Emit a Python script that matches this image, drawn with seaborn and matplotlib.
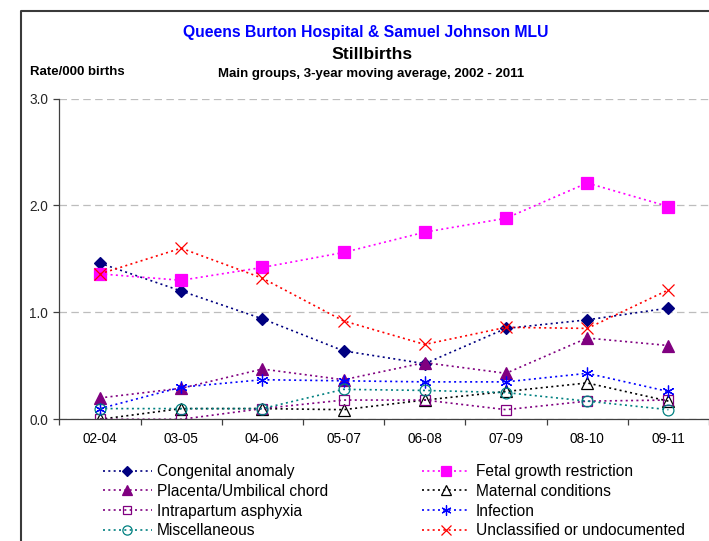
import numpy as np
import pandas as pd
import matplotlib
matplotlib.use("Agg")
import matplotlib.pyplot as plt
from matplotlib.lines import Line2D
import seaborn as sns

# ---- data (rate per 000 births, 3-year moving average) ----
periods = ["02-04", "03-05", "04-06", "05-07", "06-08", "07-09", "08-10", "09-11"]
congenital = [1.46, 1.20, 0.94, 0.64, 0.52, 0.85, 0.93, 1.04]
fetal = [1.36, 1.30, 1.42, 1.56, 1.75, 1.88, 2.21, 1.99]
placenta = [0.20, 0.29, 0.47, 0.37, 0.53, 0.43, 0.76, 0.69]
maternal = [0.00, 0.10, 0.10, 0.09, 0.18, 0.26, 0.34, 0.17]
intrapartum = [0.00, 0.00, 0.10, 0.18, 0.18, 0.09, 0.17, 0.18]
infection = [0.10, 0.30, 0.37, 0.36, 0.35, 0.35, 0.43, 0.26]
miscellaneous = [0.10, 0.10, 0.10, 0.28, 0.27, 0.25, 0.17, 0.09]
unclassified = [1.36, 1.60, 1.32, 0.92, 0.70, 0.86, 0.85, 1.21]

series_names = ["Congenital anomaly", "Fetal growth restriction",
                "Placenta/Umbilical chord", "Maternal conditions",
                "Intrapartum asphyxia", "Infection", "Miscellaneous",
                "Unclassified or undocumented"]
series_values = [congenital, fetal, placenta, maternal,
                 intrapartum, infection, miscellaneous, unclassified]

# ---- styles ----
styles = {
    "Congenital anomaly": dict(color="#000080", marker="D", ms=5.8, mfc="#000080"),
    "Fetal growth restriction": dict(color="#FF00FF", marker="s", ms=8.2, mfc="#FF00FF"),
    "Placenta/Umbilical chord": dict(color="#800080", marker="^", ms=8.0, mfc="#800080"),
    "Maternal conditions": dict(color="#000000", marker="^", ms=8.0, mfc="none"),
    "Intrapartum asphyxia": dict(color="#800080", marker="s", ms=7.6, mfc="none"),
    "Infection": dict(color="#0000FF", marker=(6, 2, 0), ms=8.5, mfc="none"),
    "Miscellaneous": dict(color="#008080", marker="o", ms=7.8, mfc="none"),
    "Unclassified or undocumented": dict(color="#FF0000", marker="x", ms=8.4, mfc="none"),
}

sns.set_theme(style="white")
plt.rcParams["font.family"] = ["Liberation Sans", "DejaVu Sans"]

W, H = 709, 541
fig = plt.figure(figsize=(W / 100, H / 100), dpi=100)
fig.patch.set_facecolor("white")

ax_left = 59.3 / W
ax_bottom = 1 - 419.3 / H
ax_top = 1 - 98.5 / H
ax = fig.add_axes([ax_left, ax_bottom, 1.0 - ax_left, ax_top - ax_bottom])
ax.set_facecolor("white")

handles = {}
for name, vals in zip(series_names, series_values):
    st = styles[name]
    df = pd.DataFrame({"period": periods, "rate": vals})
    sns.lineplot(data=df, x="period", y="rate", ax=ax, sort=False,
                 color=st["color"], marker=st["marker"], markersize=st["ms"],
                 markerfacecolor=st["mfc"], markeredgecolor=st["color"],
                 markeredgewidth=0.9, linewidth=1.2,
                 linestyle=(0, (1.2, 2.0)), label=name, legend=False)
    handles[name] = ax.lines[-1]

ax.set_xlim(-0.5, len(periods) - 0.5)
ax.set_ylim(0, 3.0)
ax.set_yticks([0, 1, 2, 3])
ax.set_yticklabels(["0.0", "1.0", "2.0", "3.0"])
ax.set_xticks(np.arange(-0.5, len(periods), 1.0), minor=True)
ax.tick_params(axis="x", which="major", length=0, pad=9, labelsize=9.8,
               colors="#000000")
ax.tick_params(axis="x", which="minor", length=4.5, width=0.9,
               direction="out", color="#404040", bottom=True)
ax.tick_params(axis="y", which="major", length=4, width=0.9, direction="out",
               color="#404040", pad=4, labelsize=9.8, left=True)
ax.set_xlabel("")
ax.set_ylabel("")

ax.grid(False)
ax.yaxis.grid(True, color="#BDBDBD", linestyle=(0, (6, 3.5)), linewidth=0.9)
ax.set_axisbelow(True)
for s in ["top", "right"]:
    ax.spines[s].set_visible(False)
for s in ["left", "bottom"]:
    ax.spines[s].set_color("#404040")
    ax.spines[s].set_linewidth(0.9)

# ---- titles ----
fig.text(366 / W, 1 - 32 / H, "Queens Burton Hospital & Samuel Johnson MLU",
         ha="center", va="center", fontsize=11.3, fontweight="bold", color="#0000FF")
fig.text(371.5 / W, 1 - 54.5 / H, "Stillbirths", ha="center", va="center",
         fontsize=12.6, fontweight="bold", color="#000000")
fig.text(371.5 / W, 1 - 74 / H, "Main groups, 3-year moving average, 2002 - 2011",
         ha="center", va="center", fontsize=9.5, fontweight="bold", color="#000000")
fig.text(30 / W, 1 - 72 / H, "Rate/000 births", ha="left", va="center",
         fontsize=9.5, fontweight="bold", color="#000000")

# ---- frame (left & top edges) ----
fig.add_artist(Line2D([21 / W, 21 / W, 1.0], [-0.01, 1 - 11 / H, 1 - 11 / H],
                      transform=fig.transFigure, color="#3a3a3a", linewidth=1.5))

# ---- legends ----
col1 = ["Congenital anomaly", "Placenta/Umbilical chord",
        "Intrapartum asphyxia", "Miscellaneous"]
col2 = ["Fetal growth restriction", "Maternal conditions",
        "Infection", "Unclassified or undocumented"]
leg_kw = dict(frameon=False, fontsize=11.2, handlelength=3.1, handletextpad=0.36,
              labelspacing=0.31, borderpad=0, borderaxespad=0, markerscale=0.85,
              numpoints=1, loc="upper left", bbox_transform=fig.transFigure)
leg_top = 1 - 464 / H
l1 = fig.legend([handles[n] for n in col1], col1,
                bbox_to_anchor=(103.3 / W, leg_top), **leg_kw)
l2 = fig.legend([handles[n] for n in col2], col2,
                bbox_to_anchor=(421.7 / W, leg_top), **leg_kw)
for lg in (l1, l2):
    for t in lg.get_texts():
        t.set_color("#000000")

fig.savefig("out.png", dpi=100, facecolor="white")
